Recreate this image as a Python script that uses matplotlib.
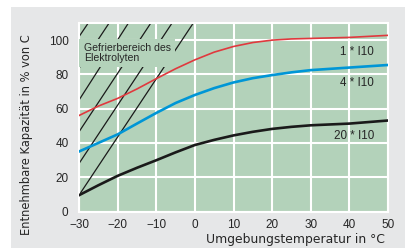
import matplotlib
matplotlib.use("Agg")
import matplotlib.pyplot as plt
from matplotlib.patches import Rectangle

# ---- data ----
temps = [-30, -25, -20, -15, -10, -5, 0, 5, 10, 15, 20, 25, 30, 40, 50]
cap_1xI10 = [56, 61.5, 66, 71.5, 77.5, 83.3, 88.5, 93, 96.3, 98.6, 100, 100.7, 101, 101.6, 102.8]
cap_4xI10 = [35, 40, 45, 51.3, 57.5, 63.3, 68, 72, 75.3, 77.8, 79.6, 81.2, 82.5, 84, 85.5]
cap_20xI10 = [9.5, 15.3, 20.8, 25.5, 29.9, 34.5, 38.8, 41.8, 44.4, 46.5, 48.2, 49.4, 50.3, 51.3, 53.1]
series_labels = ["1 * I10", "4 * I10", "20 * I10"]

# freezing-zone hatch lines: value at -30 °C and temperature where they reach the top (110 %)
hatch_left_values = [9.5, 28, 46.5, 65, 83.5, 102]
hatch_top_temps = [-0.4, -5.9, -11.4, -17.2, -22.2, -27.6]

xticks = [-30, -20, -10, 0, 10, 20, 30, 40, 50]
yticks = [0, 20, 40, 60, 80, 100]

GREEN = "#b3d2ba"
GRAY = "#e6e7e8"
TXT = "#262626"

fig = plt.figure(figsize=(4.12, 2.48), dpi=100)
fig.patch.set_facecolor("white")
fig.patches.append(Rectangle((11 / 412, 0), 394 / 412, 241 / 248,
                             transform=fig.transFigure, facecolor=GRAY,
                             edgecolor="none", zorder=-10))

ax = fig.add_axes([79 / 412, 36.5 / 248, 309 / 412, 188.5 / 248])
ax.set_zorder(1)
ax.set_facecolor(GREEN)
ax.set_xlim(-30, 50)
ax.set_ylim(0, 110)

for s in ax.spines.values():
    s.set_color("white")
    s.set_linewidth(1.5)

ax.set_xticks(xticks)
ax.set_yticks(yticks)
ax.grid(True, color="white", linewidth=1.5, zorder=1)
ax.set_axisbelow(True)
ax.tick_params(length=0, labelsize=8.5, colors=TXT)
ax.tick_params(axis="x", pad=5.5)
ax.tick_params(axis="y", pad=7.5)
for lab in ax.get_xticklabels() + ax.get_yticklabels():
    lab.set_fontfamily(["Liberation Sans", "DejaVu Sans"])

# hatch lines
for v0, t1 in zip(hatch_left_values, hatch_top_temps):
    ax.plot([-30, t1], [v0, 110], color="#1a1a1a", linewidth=0.9,
            zorder=2, solid_capstyle="butt")

ax.text(-28.8, 98.3, "Gefrierbereich des\nElektrolyten", ha="left", va="top",
        fontsize=7.6, color=TXT, family=["Liberation Sans", "DejaVu Sans"],
        linespacing=1.0, zorder=3,
        bbox=dict(boxstyle="square,pad=0.42", facecolor=GREEN, edgecolor="none"))

ax.plot(temps, cap_1xI10, color="#e0393e", linewidth=1.2, zorder=4)
ax.plot(temps, cap_4xI10, color="#0096d6", linewidth=1.9, zorder=4)
ax.plot(temps, cap_20xI10, color="#1a1a1a", linewidth=1.9, zorder=4)

label_pos = [(42.0, 93.3), (42.0, 75.2), (41.2, 44.0)]
for (tx, ty), lab in zip(label_pos, series_labels):
    ax.text(tx, ty, lab, ha="center", va="center", fontsize=8.4, color=TXT,
            family=["Liberation Sans", "DejaVu Sans"], zorder=5)

fig.text(295.5 / 412, 1 - 240 / 248, "Umgebungstemperatur in °C", ha="center",
         va="center", fontsize=8.9, color=TXT, family=["DejaVu Sans"])
fig.text(27 / 412, 1 - 135 / 248, "Entnehmbare Kapazität in % von C", ha="center",
         va="center", rotation=90, fontsize=8.3, color=TXT, family=["DejaVu Sans"])

fig.savefig("out.png", dpi=100, facecolor=fig.get_facecolor())
